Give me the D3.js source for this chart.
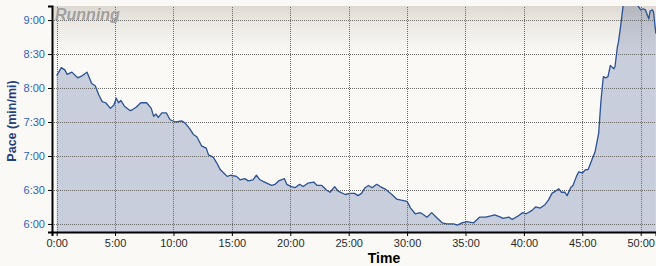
<!DOCTYPE html>
<html>
<head>
<meta charset="utf-8">
<script src="https://cdn.jsdelivr.net/npm/d3@7"></script>
<style>
  html, body { margin: 0; padding: 0; background: #faf9f5; }
  svg { display: block; }
</style>
</head>
<body>
<div id="pace-chart"></div>
<script>
// elapsed time (minutes) and pace (seconds per mile)
const timeMin = [
  0.0, 0.4, 0.7, 0.9, 1.3, 1.8, 2.2, 2.6, 3.0, 3.3, 3.6, 3.9, 4.2, 4.6, 4.9, 5.1, 5.3, 5.5, 5.8, 6.3,
  6.5, 6.8, 7.2, 7.7, 8.1, 8.3, 8.5, 8.7, 9.0, 9.4, 9.7, 10.2, 10.7, 11.0, 11.4, 11.7, 12.0, 12.4, 12.8, 13.0,
  13.4, 13.7, 14.0, 14.3, 14.6, 14.9, 15.4, 15.7, 16.1, 16.4, 16.8, 17.1, 17.4, 17.8, 18.4, 18.7, 19.0, 19.5, 19.7, 20.1,
  20.4, 20.8, 21.1, 21.5, 22.0, 22.3, 22.7, 23.1, 23.4, 23.8, 24.1, 24.7, 25.1, 25.5, 25.8, 26.1, 26.4, 26.7, 27.0, 27.4,
  27.7, 28.1, 28.7, 29.1, 29.5, 30.0, 30.3, 30.7, 31.1, 31.3, 31.7, 32.1, 32.5, 33.0, 33.4, 34.0, 34.3, 34.7, 35.1, 35.7,
  36.2, 36.7, 37.1, 37.5, 38.0, 38.2, 38.7, 39.0, 39.5, 39.9, 40.2, 40.7, 41.0, 41.4, 41.8, 42.1, 42.4, 42.7, 43.0, 43.2,
  43.5, 43.7, 44.0, 44.2, 44.5, 44.7, 45.0, 45.3, 45.5, 45.8, 46.1, 46.4, 46.6, 46.8, 47.0, 47.2, 47.4, 47.7, 47.8, 48.0,
  48.1, 48.3, 48.5, 48.9, 49.4, 49.8, 50.0, 50.2, 50.4, 50.7, 50.8, 51.0, 51.1, 51.3
];
const paceSec = [
  491, 498, 496, 492, 494, 489, 491, 494, 484, 482, 474, 468, 467, 462, 465, 471, 467, 469, 464, 460,
  461, 463, 467, 467, 462, 455, 457, 454, 458, 458, 452, 450, 451, 449, 444, 439, 437, 429, 427, 421,
  419, 414, 408, 405, 402, 403, 402, 399, 400, 398, 399, 403, 399, 397, 394, 395, 398, 400, 395, 393,
  392, 395, 393, 396, 397, 394, 394, 390, 388, 393, 389, 386, 387, 387, 385, 387, 392, 394, 392, 395,
  393, 391, 386, 382, 381, 380, 374, 369, 370, 369, 366, 370, 366, 361, 360, 360, 359, 361, 362, 361,
  366, 366, 367, 368, 366, 365, 366, 364, 367, 370, 369, 372, 375, 374, 377, 381, 387, 389, 391, 388,
  388, 385, 392, 394, 402, 406, 405, 408, 408, 416, 424, 440, 469, 490, 489, 490, 500, 497, 499, 516,
  521, 536, 553, 560, 558, 552, 549, 550, 549, 541, 548, 549, 547, 528
];
const paceTicks = [360, 390, 420, 450, 480, 510, 540];
const timeTicks = [0, 5, 10, 15, 20, 25, 30, 35, 40, 45, 50];
const chartTitle = 'Running';
const xTitle = 'Time';
const yTitle = 'Pace (min/mi)';

const width = 656, height = 266;
const plot = { left: 52, right: 656, top: 6, bottom: 232 };

const points = timeMin.map((t, i) => ({ t, pace: paceSec[i] }));

const fmtClock = v => {
  const m = Math.floor(v / 60), s = Math.round(v - m * 60);
  return m + ':' + String(s).padStart(2, '0');
};

const svg = d3.select('#pace-chart').append('svg')
  .attr('width', width)
  .attr('height', height);

const defs = svg.append('defs');
defs.append('clipPath').attr('id', 'plot-clip')
  .append('rect')
  .attr('x', plot.left).attr('y', plot.top)
  .attr('width', plot.right - plot.left).attr('height', plot.bottom - plot.top);

const shade = defs.append('linearGradient')
  .attr('id', 'top-shade')
  .attr('x1', 0).attr('y1', 0).attr('x2', 0).attr('y2', 1);
shade.append('stop').attr('offset', '0%').attr('stop-color', 'rgb(90,70,50)').attr('stop-opacity', 0.18);
shade.append('stop').attr('offset', '30%').attr('stop-color', 'rgb(90,70,50)').attr('stop-opacity', 0.1);
shade.append('stop').attr('offset', '100%').attr('stop-color', 'rgb(90,70,50)').attr('stop-opacity', 0);

svg.append('rect')
  .attr('width', width).attr('height', height)
  .attr('fill', '#faf9f5');

// scales: 0:00 sits a few px right of the y axis, the right edge is cut at ~51:18
const x = d3.scaleLinear().domain([-0.4, 51.31]).range([plot.left, plot.right]);
const y = d3.scaleLinear().domain([352.9, 552.4]).range([plot.bottom, plot.top]);

const inner = svg.append('g').attr('clip-path', 'url(#plot-clip)');

const area = d3.area()
  .x(d => x(d.t))
  .y0(plot.bottom)
  .y1(d => y(d.pace));

const line = d3.line()
  .x(d => x(d.t))
  .y(d => y(d.pace));

inner.append('path')
  .datum(points)
  .attr('fill', '#c8cedb')
  .attr('d', area);

inner.append('rect')
  .attr('x', plot.left).attr('y', plot.top)
  .attr('width', plot.right - plot.left).attr('height', 48)
  .attr('fill', 'url(#top-shade)');

// dotted grid
const xGrid = d3.axisBottom(x).tickValues(timeTicks).tickSize(-(plot.bottom - plot.top)).tickFormat('');
const yGrid = d3.axisLeft(y).tickValues(paceTicks).tickSize(-(plot.right - plot.left)).tickFormat('');

inner.append('g')
  .attr('transform', `translate(0,${plot.bottom})`)
  .call(xGrid)
  .call(g => g.select('.domain').remove())
  .selectAll('line')
  .attr('stroke', '#6a6a6a')
  .attr('shape-rendering', 'crispEdges')
  .attr('stroke-dasharray', '1,1');

inner.append('g')
  .attr('transform', `translate(${plot.left},0)`)
  .call(yGrid)
  .call(g => g.select('.domain').remove())
  .selectAll('line')
  .attr('stroke', '#6a6a6a')
  .attr('shape-rendering', 'crispEdges')
  .attr('stroke-dasharray', '1,1');

inner.append('path')
  .datum(points)
  .attr('fill', 'none')
  .attr('stroke', '#2b5294')
  .attr('stroke-width', 1.3)
  .attr('stroke-linejoin', 'round')
  .attr('d', line);

svg.append('text')
  .attr('x', 55)
  .attr('y', 20)
  .attr('font-family', 'Liberation Sans, Arial, sans-serif')
  .attr('font-size', 16)
  .attr('font-weight', 'bold')
  .attr('font-style', 'italic')
  .attr('fill', '#a0a0a0')
  .text(chartTitle);

// axes
const xAxis = d3.axisBottom(x).tickValues(timeTicks).tickSize(4).tickPadding(3)
  .tickFormat(v => fmtClock(v * 60));
const yAxis = d3.axisLeft(y).tickValues(paceTicks).tickSize(4).tickPadding(3)
  .tickFormat(fmtClock);

svg.append('g')
  .attr('transform', `translate(0,${plot.bottom})`)
  .call(xAxis)
  .call(g => g.select('.domain').attr('stroke', '#000').attr('stroke-width', 2))
  .call(g => g.selectAll('.tick line').attr('stroke', '#000'))
  .call(g => g.selectAll('.tick text')
    .attr('font-family', 'Liberation Sans, Arial, sans-serif')
    .attr('font-size', 11)
    .attr('fill', '#2a2a2a'));

svg.append('g')
  .attr('transform', `translate(${plot.left},0)`)
  .call(yAxis)
  .call(g => g.select('.domain').attr('stroke', '#000').attr('stroke-width', 2))
  .call(g => g.selectAll('.tick line').attr('stroke', '#000'))
  .call(g => g.selectAll('.tick text')
    .attr('font-family', 'Liberation Sans, Arial, sans-serif')
    .attr('font-size', 11)
    .attr('fill', '#2b63b5'));

svg.append('text')
  .attr('x', 384)
  .attr('y', 263)
  .attr('text-anchor', 'middle')
  .attr('font-family', 'Liberation Sans, Arial, sans-serif')
  .attr('font-size', 14)
  .attr('font-weight', 'bold')
  .attr('fill', '#000')
  .text(xTitle);

svg.append('text')
  .attr('transform', 'translate(16,121) rotate(-90)')
  .attr('text-anchor', 'middle')
  .attr('font-family', 'Liberation Sans, Arial, sans-serif')
  .attr('font-size', 12.5)
  .attr('font-weight', 'bold')
  .attr('fill', '#1f3f80')
  .text(yTitle);
</script>
</body>
</html>
